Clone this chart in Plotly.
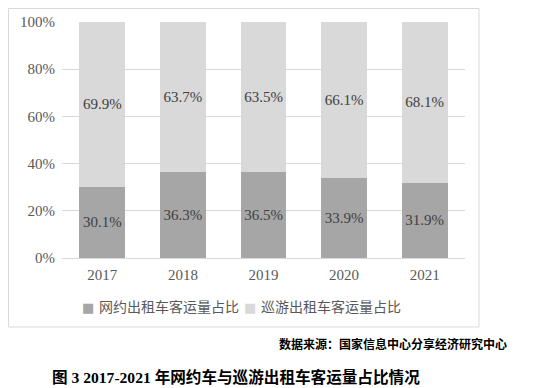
import plotly.graph_objects as go

years = ["2017", "2018", "2019", "2020", "2021"]
ride_hailing = [30.1, 36.3, 36.5, 33.9, 31.9]
cruising_taxi = [69.9, 63.7, 63.5, 66.1, 68.1]
series_names = ["网约出租车客运量占比", "巡游出租车客运量占比"]
series_colors = ["#a6a6a6", "#d9d9d9"]
y_ticks = [0, 20, 40, 60, 80, 100]
source_text = "数据来源：国家信息中心分享经济研究中心"
title_text = "图 3 2017-2021 年网约车与巡游出租车客运量占比情况"

num_font = "Liberation Serif, Times New Roman, serif"
cjk_font = "Liberation Serif, Noto Sans CJK SC, sans-serif"

# page has an 8px body margin; figure is sized to fit the window
OFF = 8
W, H = 550 - OFF, 388 - OFF
# plot area in page pixels
PX0, PX1, PY0, PY1 = 62, 465, 22, 258
L, R, T, B = PX0 - OFF, W - (PX1 - OFF), PY0 - OFF, H - (PY1 - OFF)
pw, ph = W - L - R, H - T - B

def px(x):
    return (x - OFF - L) / pw

def py(y):
    return (H - B - (y - OFF)) / ph

fig = go.Figure()
for vals, name, col in [(ride_hailing, series_names[0], series_colors[0]),
                        (cruising_taxi, series_names[1], series_colors[1])]:
    fig.add_trace(go.Bar(
        x=years, y=vals, name=name,
        marker=dict(color=col, line=dict(width=0)),
        text=[f"{v:.1f}%" for v in vals], textposition="inside",
        insidetextanchor="middle",
        textfont=dict(family=num_font, size=15, color="#404040"),
        showlegend=False,
    ))

legend_ann = []
for name, col, sx in zip(series_names, series_colors, [88, 250]):
    legend_ann.append(dict(
        text="■", xref="paper", yref="paper", x=px(sx), y=py(307),
        xanchor="center", yanchor="middle", showarrow=False,
        font=dict(family="DejaVu Sans", size=13, color=col)))
    legend_ann.append(dict(
        text=name, xref="paper", yref="paper", x=px(sx + 9), y=py(307),
        xanchor="left", yanchor="middle", showarrow=False,
        font=dict(family=cjk_font, size=14, color="#595959")))

fig.update_layout(
    width=W, height=H,
    margin=dict(l=L, r=R, t=T, b=B, autoexpand=False),
    barmode="stack", bargap=0.43,
    plot_bgcolor="white", paper_bgcolor="white",
    xaxis=dict(
        showgrid=False, showline=False, ticks="", automargin=False,
        ticklabelstandoff=6,
        tickfont=dict(family=num_font, size=15, color="#595959"),
    ),
    yaxis=dict(
        range=[0, 100], tickvals=y_ticks,
        ticktext=[f"{v}%" for v in y_ticks],
        showgrid=True, gridcolor="#d9d9d9", gridwidth=1,
        zeroline=True, zerolinecolor="#d9d9d9", zerolinewidth=1,
        showline=False, ticks="", automargin=False,
        ticklabelstandoff=6,
        tickfont=dict(family=num_font, size=15, color="#595959"),
    ),
    showlegend=False,
    shapes=[dict(
        type="rect", xref="paper", yref="paper",
        x0=px(8.5), x1=px(479), y0=py(327), y1=py(8.5),
        line=dict(color="#d9d9d9", width=1), fillcolor="rgba(0,0,0,0)",
        layer="below",
    )],
    annotations=legend_ann + [
        dict(text=f"<b>{source_text}</b>", xref="paper", yref="paper",
             x=px(509), y=py(343), xanchor="right", yanchor="middle",
             showarrow=False,
             font=dict(family="Noto Sans CJK SC", size=12, color="#000000")),
        dict(text=f"<b>{title_text}</b>", xref="paper", yref="paper",
             x=px(50), y=py(377), xanchor="left", yanchor="middle",
             showarrow=False,
             font=dict(family="Liberation Serif, Noto Sans CJK SC", size=15.6, color="#000000")),
    ],
)

fig.write_html("out.html")
